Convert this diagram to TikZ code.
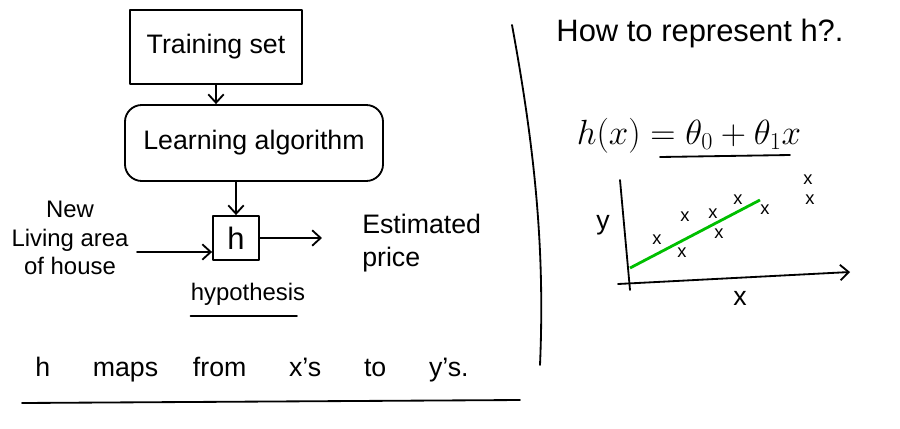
\documentclass[tikz,border=0pt]{standalone}
\usepackage{fontspec}
\setmainfont{Liberation Sans}
\usepackage{tikz}
\usetikzlibrary{arrows.meta,positioning}
\tikzset{
  >={Straight Barb[length=6pt,width=11pt]},
  ink/.style={line width=1.3pt,line cap=round,line join=round},
  box/.style={rectangle,draw,ink,font=\fontsize{19}{22}\selectfont},
  flow/.style={->,ink},
  hand/.style={font=\fontsize{17}{20}\selectfont,inner sep=0pt},
  big/.style={font=\fontsize{19}{22}\selectfont,inner sep=0pt},
  cross/.style={font=\fontsize{13}{15}\selectfont,inner sep=0pt},
  fitline/.style={green!75!black,line width=2pt}
}

\begin{document}
\begin{tikzpicture}[x=0.025cm,y=-0.025cm,node distance=0.5cm]
  \useasboundingbox[fill=white] (0,0) rectangle (900,428);

  % left: learning pipeline
  \node[box,minimum width=4.3cm,minimum height=1.85cm] (train) at (216,47) {Training set};
  \node[box,rounded corners=12pt,minimum width=6.45cm,minimum height=1.9cm] (learn) at (254,143) {Learning algorithm};
  \node[box,font=\fontsize{22}{24}\selectfont,minimum width=1.15cm,minimum height=1.1cm,inner sep=0pt] (hyp) at (236,238) {h};

  \draw[flow] (train.south) -- (train.south |- learn.north);
  \draw[flow] (learn.south -| hyp) -- (hyp.north);

  \node[hand,align=center] (input) at (70,238) {New\\Living area\\of house};
  \node[hand,font=\fontsize{19}{23}\selectfont,align=left,anchor=west] (price) at (362,243) {Estimated\\price};
  \coordinate (in) at (137,252);
  \draw[flow] (in) -- (in -| hyp.west);
  \draw[flow] (hyp.east) -- ([xshift=-1cm]price.west |- hyp.east);

  \node[hand,below=0.55cm of hyp,xshift=0.3cm] (hlabel) {hypothesis};
  \draw[ink] ([yshift=-7pt]hlabel.south west) -- ([yshift=-7pt,xshift=-6pt]hlabel.south east);

  \node[big,anchor=west] (maps) at (35,370) {h\hspace{1.6em}maps\hspace{1.3em}from\hspace{1.6em}x's\hspace{1.6em}to\hspace{1.6em}y's.};
  \draw[ink] (22,403) -- (520,400);

  % divider
  \draw[ink] (512,25) .. controls (535,150) and (545,250) .. (540,365);

  % right: representation of h
  \node[big,font=\fontsize{22}{26}\selectfont] (question) at (700,33) {How to represent h?.};
  \node[big,font=\fontsize{23}{26}\selectfont] (model) at (689,136) {$h(x) = \theta_0 + \theta_1 x$};
  \draw[ink] (660,157) -- (790,155);

  \coordinate (ytop) at (620,180);
  \coordinate (ybot) at (630,290);
  \coordinate (xleft) at (618,284);
  \coordinate (xright) at (850,272);
  \draw[ink] (ytop) -- (ybot);
  \draw[ink,->] (xleft) -- (xright);
  \node[hand,font=\fontsize{19}{22}\selectfont] (ylab) at (603,225) {y};
  \node[hand,font=\fontsize{19}{22}\selectfont] (xlab) at (740,298) {x};

  \draw[fitline] (630,268) -- (760,200);
  \foreach \px/\py [count=\i] in {657/240,685/217,682/253,713/214,719/234,738/200,765/210,808/180,810/200}
    \node[cross] (pt\i) at (\px,\py) {x};
\end{tikzpicture}
\end{document}
